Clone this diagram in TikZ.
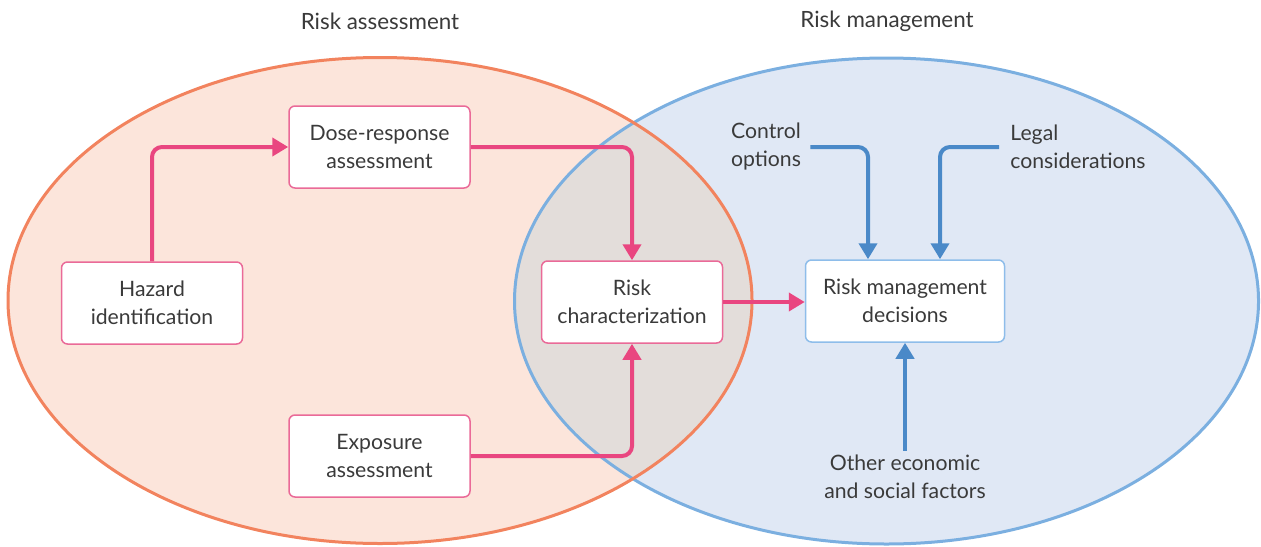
\documentclass[tikz,border=0pt]{standalone}
\usepackage{fontspec}
\setmainfont{Lato}
\usetikzlibrary{arrows.meta,calc}
\definecolor{leftfill}{HTML}{FCE5DB}
\definecolor{leftline}{HTML}{F2835E}
\definecolor{rightfill}{HTML}{E0E8F5}
\definecolor{rightline}{HTML}{7BAFE0}
\definecolor{overlapfill}{HTML}{E3DDDA}
\definecolor{pinkarrow}{HTML}{E94680}
\definecolor{pinkbox}{HTML}{EA6A98}
\definecolor{bluearrow}{HTML}{4A89C8}
\definecolor{bluebox}{HTML}{8EBDEA}
\definecolor{txt}{HTML}{3A3A3A}
\tikzset{
  txtstyle/.style={text=txt, font=\fontsize{10.6}{14}\selectfont, align=center},
  pinkbox/.style={txtstyle, draw=pinkbox, fill=white, line width=0.75pt, rounded corners=3pt, minimum width=90.5pt, minimum height=41pt, inner sep=0pt},
  bluebox/.style={txtstyle, draw=bluebox, fill=white, line width=0.75pt, rounded corners=3pt, minimum width=99.5pt, minimum height=41pt, inner sep=0pt},
  pinkarr/.style={draw=pinkarrow, line width=2pt, rounded corners=5pt, -{Triangle[width=9pt,length=8pt]}},
  bluearr/.style={draw=bluearrow, line width=2pt, rounded corners=5pt, -{Triangle[width=9pt,length=8pt]}},
  title/.style={text=txt, font=\fontsize{11.2}{14}\selectfont},
}
\begin{document}
\begin{tikzpicture}[x=0.5pt,y=-0.5pt]
\useasboundingbox (0,0) rectangle (1261,546);
% ellipses
\fill[leftfill] (380,300.5) ellipse [x radius=186pt, y radius=121.5pt];
\fill[rightfill] (886.5,301) ellipse [x radius=186pt, y radius=121.5pt];
\begin{scope}
  \clip (380,300.5) ellipse [x radius=186pt, y radius=121.5pt];
  \fill[overlapfill] (886.5,301) ellipse [x radius=186pt, y radius=121.5pt];
\end{scope}
\draw[rightline, line width=1.5pt] (886.5,301) ellipse [x radius=186pt, y radius=121.5pt];
\draw[leftline, line width=1.5pt] (380,300.5) ellipse [x radius=186pt, y radius=121.5pt];
% titles
\node[title] (t1) at (380,21) {Risk assessment};
\node[title] (t2) at (887,21) {Risk management};
% boxes
\node[pinkbox] (haz) at (152,303) {Hazard\\identification};
\node[pinkbox] (dose) at (379.5,147) {Dose-response\\assessment};
\node[pinkbox] (exp) at (379.5,456) {Exposure\\assessment};
\node[pinkbox] (rc) at (632,302) {Risk\\characterization};
\node[bluebox] (rmd) at (905,301) {Risk management\\decisions};
% text labels
\node[txtstyle, inner sep=0pt] (ctrl) at (766,147) {Control\\options};
\node[txtstyle, align=left, anchor=west, inner sep=0pt] (legal) at (1010,147) {Legal\\considerations};
\node[txtstyle, inner sep=0pt] (other) at (905,477) {Other economic\\and social factors};
% pink arrows
\draw[pinkarr] (haz.north) |- (dose.west);
\draw[pinkarr] (dose.east) -| (rc.north);
\draw[pinkarr] (exp.east) -| (rc.south);
\draw[pinkarr] (rc.east) -- (rc.east -| rmd.west);
% blue arrows
\draw[bluearr] ([xshift=4.5pt]ctrl.east) -| ([xshift=-18.5pt]rmd.north);
\draw[bluearr] ([xshift=-5.5pt]legal.west) -| ([xshift=17.5pt]rmd.north);
\draw[bluearr] ([yshift=2pt]other.north) -- (rmd.south);
\end{tikzpicture}
\end{document}
